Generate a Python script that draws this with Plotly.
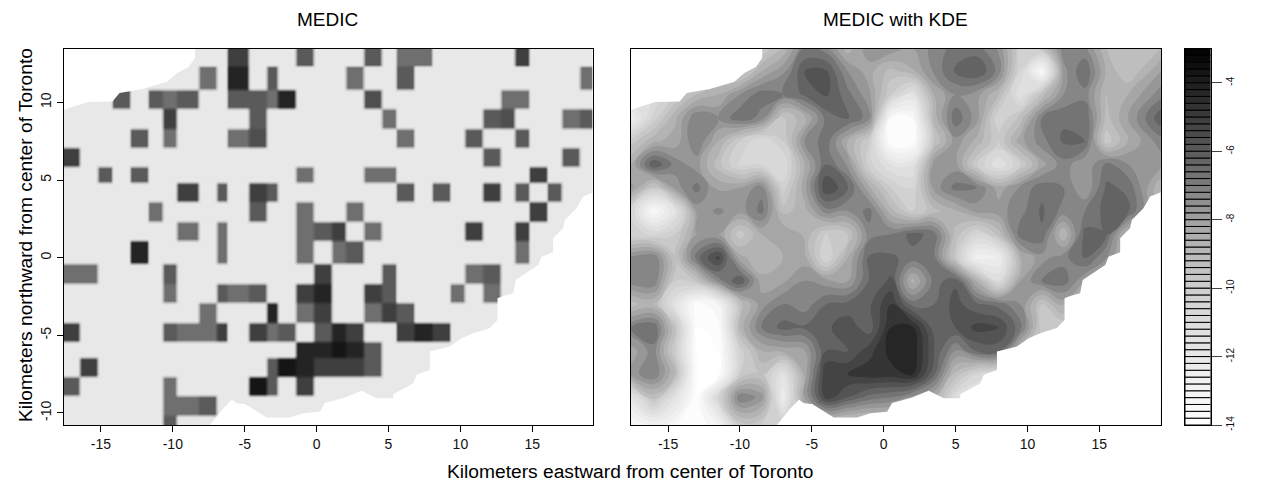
import numpy as np
import plotly.graph_objects as go

W, H = 1261, 484
X_RANGE_L = [-17.6, 19.2]
X_RANGE_R = [-17.6, 19.27]
Y_RANGE = [-10.78, 13.47]

# gray ramp: value -> gray level
ramp_values = [-14, -13, -12, -11, -10, -9, -8, -7, -6, -5, -4, -3]
ramp_grays = [255, 243, 232, 220, 205, 185, 160, 125, 90, 60, 30, 0]

x_ticks = [-15, -10, -5, 0, 5, 10, 15]
x_tick_labels = ["-15", "-10", "-5", "0", "5", "10", "15"]
y_ticks = [-10, -5, 0, 5, 10]
y_tick_labels = ["-10", "-5", "0", "5", "10"]
key_ticks = [-14, -12, -10, -8, -6, -4]
key_tick_labels = ["-14", "-12", "-10", "-8", "-6", "-4"]

# ---- left panel: cell edges (km) and cell values
cell_x_edges = [-17.6, -16.44, -15.19, -14.22, -12.97, -11.72, -10.81, -9.63, -8.31, -6.99, -6.16,
                -4.84, -3.52, -2.75, -1.43, -0.18, 1.14, 2.04, 3.29, 4.54, 5.59, 6.70, 7.95, 9.27,
                10.24, 11.42, 12.74, 13.65, 14.83, 16.08, 16.98, 18.24, 19.3]
cell_y_edges = [13.6, 12.28, 10.93, 9.58, 8.35, 7.19, 5.90, 4.75, 3.52, 2.30, 1.08, -0.34, -1.56,
                -2.79, -4.08, -5.30, -6.52, -7.68, -8.97, -10.13, -10.9]
BACK = -12.0
A, B, C, E, F = -3.7, -4.2, -5.1, -6.0, -6.6
D = -5.6
cell_rows = [
    {10: C, 14: E, 18: E, 20: F, 21: F, 27: C},
    {8: F, 10: B, 12: E, 17: F, 20: E, 31: F},
    {3: E, 5: E, 6: F, 7: E, 10: E, 11: E, 12: F, 13: B, 18: D, 26: F, 27: F},
    {6: C, 11: E, 19: F, 25: E, 26: D, 30: F, 31: E},
    {4: E, 6: F, 10: F, 11: D, 20: F, 24: E, 27: E},
    {0: C, 25: E, 30: E},
    {2: E, 4: E, 14: F, 18: F, 19: F, 28: C},
    {7: C, 9: E, 11: C, 12: E, 20: E, 22: E, 25: C, 27: E, 29: E},
    {5: F, 11: E, 14: F, 17: F, 28: C},
    {7: F, 9: F, 14: F, 15: E, 16: C, 18: F, 24: C, 27: C},
    {4: B, 9: F, 14: F, 16: F, 17: E, 27: F},
    {0: F, 1: F, 6: E, 15: C, 19: E, 24: F, 25: E},
    {6: F, 9: E, 10: F, 11: E, 14: C, 15: B, 18: C, 19: E, 23: F, 25: F},
    {8: F, 12: B, 14: F, 15: C, 18: F, 19: C, 20: E},
    {0: C, 6: E, 7: F, 8: F, 9: C, 11: C, 12: F, 13: E, 15: E, 16: B, 17: C, 20: C, 21: B, 22: C},
    {14: B, 15: B, 16: A, 17: B, 18: E},
    {1: C, 12: E, 13: A, 14: B, 15: C, 16: C, 17: C, 18: E},
    {0: E, 6: F, 11: A, 12: E, 14: C},
    {6: F, 7: F, 8: E},
    {6: E},
]

# ---- right panel: density surface (log scale)
kde_x = [-17.6, -16, -14.5, -13, -11.5, -10, -8.5, -7, -5.5, -4, -2.5, -1, 0.5, 2, 3.5, 5, 6.5, 8,
         9.5, 11, 12.5, 14, 15.5, 17, 19.3]
kde_y = [13.5, 12, 10.5, 9, 7.5, 6, 4.5, 3, 1.5, 0, -1.5, -3, -4.5, -6, -7.5, -9, -10.8]
kde_z = [
    [-11, -11, -11, -10, -10, -10, -10, -9, -7, -7.3, -8.8, -7.6, -7.6, -8, -7.3, -6.8, -6.8, -7.6, -10, -9.5, -7.2, -7.4, -9, -9.5, -9],
    [-11, -11, -11, -10, -10, -10, -8.5, -7.6, -6, -5.9, -7.5, -8.3, -9.2, -8.6, -7.4, -6.4, -6, -7.2, -10.5, -13.5, -7.7, -6.5, -8.6, -9.5, -8],
    [-11, -11, -10, -9, -8.5, -7.5, -6.7, -7, -6.4, -5.9, -6.8, -7.9, -10, -11.5, -8.5, -7.5, -7.8, -9, -11.5, -9.3, -7.5, -7.2, -9, -8.5, -7.2],
    [-12.5, -10.3, -8.6, -7, -7.5, -6.6, -7.2, -9.6, -8.6, -6.8, -6.4, -7.3, -13.5, -13.5, -8.8, -6.6, -7.8, -10.5, -9.3, -7, -6.6, -6.5, -9.2, -8, -6.1],
    [-9.8, -8.6, -8.3, -7, -8.5, -10, -11, -10, -7.5, -6.7, -8.5, -10, -14, -14, -9.5, -7.7, -8.7, -10, -8.2, -7.2, -6.4, -6.5, -9.8, -8.5, -7.2],
    [-8.5, -6, -7.2, -7.8, -9.3, -10.6, -10.6, -11, -8.5, -6.5, -7.6, -10.3, -11.5, -11.5, -7.7, -7.8, -10, -11.5, -10, -8.2, -7.2, -8, -6.8, -7.5, -7.8],
    [-7.8, -9.8, -7.8, -6.8, -8.1, -8, -7.2, -10.3, -8.2, -5.5, -6.4, -8.4, -10, -10.5, -7.8, -6.8, -7, -8.3, -7.4, -6.7, -7, -8, -6.4, -6.6, -9],
    [-10.5, -13.5, -11.5, -7.8, -7.4, -7.8, -6.8, -9.2, -8.7, -7.2, -7.5, -6.8, -8.8, -10, -9.2, -8.6, -7.8, -7.7, -7.2, -6.4, -7.2, -7, -6.3, -6.4, -9],
    [-10.3, -10.6, -10, -8, -8, -9.8, -8.5, -8, -8.6, -10, -9.5, -7.2, -7, -6.3, -6.7, -9.2, -10.6, -9.3, -6.7, -6.6, -9, -6.3, -6.5, -9, -9],
    [-7.4, -7, -9.5, -6.7, -5.3, -8.3, -9, -8.5, -8.3, -10.6, -8.5, -6.4, -6.4, -6.7, -6.8, -9.7, -12.8, -12.5, -8.6, -7.7, -7.2, -6.4, -7.5, -9, -9],
    [-7.2, -7, -10, -9.5, -7.3, -6, -8.3, -8.1, -7.5, -7.8, -8, -6.4, -5.9, -8.7, -6.8, -6.1, -8.6, -11, -8, -7, -6.7, -8, -9, -9, -9],
    [-9.3, -9, -11.5, -13.8, -13, -9.3, -7.7, -7, -7.3, -6.5, -6.3, -6.1, -5, -6.7, -6.5, -5.8, -6.4, -6.7, -7.5, -9.5, -8.3, -10, -10, -10, -10],
    [-7, -6.5, -9.5, -14, -13.8, -8.8, -7, -6.3, -6.4, -6.1, -5.7, -6.3, -4.5, -4.4, -6.3, -6, -5.3, -5.5, -6.8, -9.8, -10, -10, -10, -10, -10],
    [-8.3, -7.2, -10, -14, -14, -10.3, -8.5, -8.3, -8, -6, -6, -5.2, -4.3, -4.1, -6, -7.5, -6.4, -6.3, -9, -9, -9, -9, -9, -9, -9],
    [-7.8, -7, -9, -14, -14, -10, -9.5, -11.5, -8.3, -5, -5, -4.7, -4.7, -4.4, -6.4, -9.2, -10.5, -11, -11, -11, -11, -11, -11, -11, -11],
    [-11.8, -9.3, -11.5, -14, -10.5, -7, -7.7, -12.4, -8, -5.2, -6, -6.7, -7, -7.7, -8.5, -11, -12, -12, -12, -12, -12, -12, -12, -12, -12],
    [-13.5, -13, -13.5, -14, -13, -9.8, -10, -10, -10, -10, -10, -10, -10, -10, -10, -10, -10, -10, -10, -10, -10, -10, -10, -10, -10],
]

# ---- outline of the study area: the white corners outside it (km)
upper_x = [-17.6, -17.6, -17.0, -15.9, -14.2, -13.7, -13.1, -12.1, -10.4, -9.7, -8.9, -8.45, -8.45, -17.6]
upper_y = [13.6, 9.51, 9.70, 10.03, 10.06, 10.6, 10.7, 10.86, 11.33, 11.89, 12.28, 12.86, 13.6, 13.6]
lower_x = [-7.53, -6.48, -5.90, -5.55, -4.98, -4.28, -3.47, -1.85, -0.92, 0.24, 0.58, 1.97, 3.13, 4.18,
           5.33, 5.33, 6.72, 6.96, 7.88, 7.88, 9.27, 10.08, 10.89, 12.05, 12.58, 12.58, 12.97, 13.67,
           13.84, 15.41, 15.64, 16.45, 16.45, 17.14, 17.26, 18.07, 18.53, 19.4, 19.4, -7.53]
lower_y = [-10.9, -9.70, -9.16, -9.38, -9.42, -9.81, -10.30, -10.30, -10.02, -9.92, -9.36, -9.01, -8.58,
           -9.05, -9.05, -8.80, -8.09, -7.55, -7.23, -6.05, -5.73, -5.19, -4.87, -4.53, -4.01, -2.61,
           -2.47, -2.29, -1.44, -0.47, 0.06, 0.35, 1.25, 1.89, 2.43, 3.18, 3.93, 4.25, -10.9, -10.9]

FONT = "Liberation Sans, Arial, sans-serif"


def gray(v):
    g = int(round(np.interp(v, ramp_values, ramp_grays)))
    return f"rgb({g},{g},{g})"


colorscale = [[(v + 14) / 11, gray(v)] for v in ramp_values]

# cell grid sampled onto a fine regular lattice so that edges soften by a few pixels
fine_x = np.arange(X_RANGE_L[0] - 0.25, X_RANGE_L[1] + 0.3, 0.25)
fine_y = np.arange(Y_RANGE[0] - 0.25, Y_RANGE[1] + 0.3, 0.25)
cols = np.clip(np.searchsorted(cell_x_edges, fine_x) - 1, 0, len(cell_x_edges) - 2)
desc = [-e for e in cell_y_edges]
rows = np.clip(np.searchsorted(desc, -fine_y) - 1, 0, len(cell_y_edges) - 2)
fine_z = [[cell_rows[r].get(int(c), BACK) for c in cols] for r in rows]

fig = go.Figure()
fig.add_trace(go.Heatmap(x=fine_x, y=fine_y, z=fine_z, zmin=-14, zmax=-3, colorscale=colorscale,
                         zsmooth="best", showscale=False, xaxis="x", yaxis="y", hoverinfo="skip"))
fig.add_trace(go.Contour(x=kde_x, y=kde_y, z=kde_z, zmin=-14, zmax=-3, colorscale=colorscale,
                         autocontour=False, contours=dict(start=-14, end=-3, size=0.5, coloring="fill", showlines=False),
                         line=dict(width=0, smoothing=1.3), showscale=False, xaxis="x2", yaxis="y2", hoverinfo="skip"))
for xa, ya in (("x", "y"), ("x2", "y2")):
    for xs, ys in ((upper_x, upper_y), (lower_x, lower_y)):
        fig.add_trace(go.Scatter(x=xs, y=ys, mode="lines", fill="toself", fillcolor="white",
                                 line=dict(width=0, color="white"), xaxis=xa, yaxis=ya,
                                 showlegend=False, hoverinfo="skip"))

key_levels = np.arange(-14, -3, 0.2)
fig.add_trace(go.Bar(x=[0] * len(key_levels), y=[0.2] * len(key_levels), base=key_levels, width=1,
                     marker=dict(color=[gray(v + 0.1) for v in key_levels], line=dict(color="black", width=1)),
                     xaxis="x3", yaxis="y3", showlegend=False, hoverinfo="skip"))


def dom_x(a, b):
    return [a / W, b / W]


dom_y = [(H - 425.0) / H, (H - 48.5) / H]
axis_common = dict(showgrid=False, zeroline=False, showline=True, linecolor="black", linewidth=1, mirror=True,
                   automargin=False, ticks="outside", ticklen=6, tickwidth=1, tickcolor="black",
                   tickfont=dict(family=FONT, size=14, color="#111"))

fig.update_layout(
    template="none",
    width=W, height=H, autosize=False, margin=dict(l=0, r=0, t=0, b=0, pad=0),
    paper_bgcolor="white", plot_bgcolor="white", barmode="overlay", showlegend=False,
    font=dict(family=FONT, color="black"),
    xaxis=dict(domain=dom_x(63.5, 592.7), range=X_RANGE_L, tickvals=x_ticks, ticktext=x_tick_labels, anchor="y", **axis_common),
    yaxis=dict(domain=dom_y, range=Y_RANGE, tickvals=y_ticks, ticktext=y_tick_labels, tickangle=-90, anchor="x", **axis_common),
    xaxis2=dict(domain=dom_x(630.7, 1160.7), range=X_RANGE_R, tickvals=x_ticks, ticktext=x_tick_labels, anchor="y2", **axis_common),
    yaxis2=dict(domain=dom_y, range=Y_RANGE, anchor="x2", showticklabels=False, showgrid=False, zeroline=False, automargin=False,
                showline=True, linecolor="black", linewidth=1, mirror=True, ticks=""),
    xaxis3=dict(domain=dom_x(1185, 1210.5), range=[-0.5, 0.5], anchor="y3", showticklabels=False, ticks="", automargin=False,
                showgrid=False, zeroline=False, showline=True, linecolor="black", mirror=True),
    yaxis3=dict(domain=dom_y, range=[-14, -3], anchor="x3", side="right", tickvals=key_ticks, ticktext=key_tick_labels, automargin=False,
                tickangle=-90, showgrid=False, zeroline=False, showline=True, linecolor="black", mirror=True,
                ticks="outside", ticklen=10, tickfont=dict(family=FONT, size=10, color="#111")),
    annotations=[
        dict(text="MEDIC", x=327 / W, y=1 - 20 / H, xref="paper", yref="paper", showarrow=False, xanchor="center", yanchor="middle",
             font=dict(family=FONT, size=19, color="black")),
        dict(text="MEDIC with KDE", x=895 / W, y=1 - 20 / H, xref="paper", yref="paper", showarrow=False, xanchor="center", yanchor="middle",
             font=dict(family=FONT, size=19, color="black")),
        dict(text="Kilometers eastward from center of Toronto", x=630 / W, y=1 - 471.5 / H, xref="paper", yref="paper", xanchor="center", yanchor="middle",
             showarrow=False, font=dict(family=FONT, size=19.2, color="black")),
        dict(text="Kilometers northward from center of Toronto", x=25 / W, y=1 - 235 / H, xref="paper", yref="paper", xanchor="center", yanchor="middle",
             showarrow=False, textangle=-90, font=dict(family=FONT, size=19.2, color="black")),
    ],
)
fig.write_html("out.html", post_script="document.body.style.margin='0';", config={"displayModeBar": False})
